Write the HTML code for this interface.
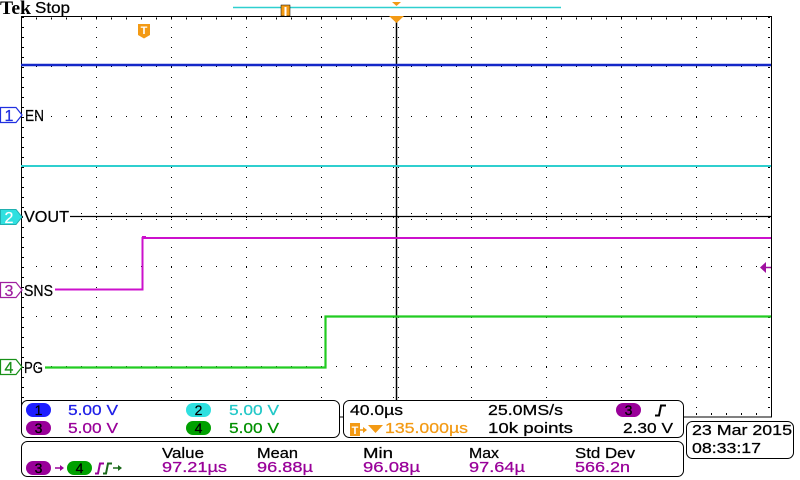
<!DOCTYPE html>
<html><head><meta charset="utf-8"><style>
html,body{margin:0;padding:0;background:#fff;}
svg{display:block;}
text{font-family:"Liberation Sans","DejaVu Sans",sans-serif;stroke-width:0.25;}
</style></head><body>
<svg width="800" height="480" viewBox="0 0 800 480" xmlns="http://www.w3.org/2000/svg">
<rect width="800" height="480" fill="#fff"/>
<!-- header -->
<text x="0" y="14" style="font-family:'Liberation Serif',serif;font-weight:bold" font-size="19" textLength="31" lengthAdjust="spacingAndGlyphs" fill="#000">Tek</text>
<text x="35" y="13" font-size="16" textLength="35" lengthAdjust="spacingAndGlyphs" fill="#000" stroke="#000">Stop</text>
<line x1="233" y1="7.5" x2="561" y2="7.5" stroke="#2fcfcf" stroke-width="1.5"/>
<rect x="281" y="5" width="9" height="11" fill="#f39a14" stroke="#000" stroke-width="0.5"/>
<rect x="284.5" y="7" width="2" height="9" fill="#fff"/>
<polygon points="392,2 401,2 396.5,6" fill="#f39a14"/>

<!-- grid -->
<g stroke="#000" stroke-width="1">
  <g stroke-dasharray="1 9">
    <line x1="96.5" y1="17" x2="96.5" y2="417"/>
    <line x1="171.5" y1="17" x2="171.5" y2="417"/>
    <line x1="246.5" y1="17" x2="246.5" y2="417"/>
    <line x1="321.5" y1="17" x2="321.5" y2="417"/>
    <line x1="471.5" y1="17" x2="471.5" y2="417"/>
    <line x1="546.5" y1="17" x2="546.5" y2="417"/>
    <line x1="621.5" y1="17" x2="621.5" y2="417"/>
    <line x1="696.5" y1="17" x2="696.5" y2="417"/>
    <line x1="23" y1="17" x2="23" y2="417" stroke-width="2"/>
    <line x1="769" y1="17" x2="769" y2="417" stroke-width="2"/>
    <line x1="393.5" y1="17" x2="393.5" y2="417"/>
    <line x1="398.5" y1="17" x2="398.5" y2="417"/>
  </g>
  <g stroke-dasharray="1 14">
    <line x1="36" y1="66.5" x2="771" y2="66.5"/>
    <line x1="36" y1="116.5" x2="771" y2="116.5"/>
    <line x1="36" y1="166.5" x2="771" y2="166.5"/>
    <line x1="36" y1="266.5" x2="771" y2="266.5"/>
    <line x1="36" y1="316.5" x2="771" y2="316.5"/>
    <line x1="36" y1="366.5" x2="771" y2="366.5"/>
    <line x1="36" y1="18.5" x2="771" y2="18.5" stroke-width="2"/>
    <line x1="36" y1="414" x2="771" y2="414" stroke-width="2"/>
    <line x1="36" y1="213.5" x2="771" y2="213.5"/>
    <line x1="36" y1="219.5" x2="771" y2="219.5"/>
  </g>
  <line x1="21.5" y1="16" x2="21.5" y2="417"/>
  <line x1="771.5" y1="16" x2="771.5" y2="417.5"/>
  <line x1="21" y1="16.5" x2="772" y2="16.5"/>
  <line x1="21" y1="417" x2="772" y2="417"/>
  <line x1="21" y1="216.5" x2="771" y2="216.5" stroke-width="1.2"/>
  <line x1="396.5" y1="16" x2="396.5" y2="417" stroke-width="1.5"/>
</g>
<polygon points="389,16 404,16 396.5,23" fill="#f39a14"/>

<!-- T marker -->
<path d="M138,24 H150 V35 L144,38.5 L138,35 Z" fill="#f39a14"/>
<text x="144" y="34" font-size="11" font-weight="bold" text-anchor="middle" fill="#fff">T</text>

<!-- traces -->
<line x1="21" y1="65" x2="771" y2="65" stroke="#1428c8" stroke-width="2.5"/>
<line x1="21" y1="166" x2="771" y2="166" stroke="#2fcfcf" stroke-width="2"/>
<polyline points="55,289.5 142.5,289.5 142.5,238 771,238" fill="none" stroke="#cc10cc" stroke-width="2"/>
<rect x="142" y="236" width="4" height="2" fill="#cc10cc"/>
<polyline points="45,367.5 325.5,367.5 325.5,316.5 771,316.5" fill="none" stroke="#22cc22" stroke-width="2.2"/>

<!-- trigger level arrow -->
<polygon points="760,267.5 766,262 766,273" fill="#a010a0"/>
<line x1="764" y1="267.5" x2="771" y2="267.5" stroke="#a010a0" stroke-width="1.5"/>

<!-- channel markers -->
<polygon points="0.5,107.5 16,107.5 22,115 16,122.5 0.5,122.5" fill="#fff" stroke="#2030e0" stroke-width="1.2"/>
<text x="9" y="121" font-size="16" text-anchor="middle" fill="#2030e0" stroke="#2030e0">1</text>
<text x="25" y="121" font-size="16" textLength="19" lengthAdjust="spacingAndGlyphs" fill="#000" stroke="#000">EN</text>

<polygon points="0.5,209.5 16,209.5 22,217 16,224.5 0.5,224.5" fill="#30e0e0" stroke="#20b0b0" stroke-width="1"/>
<text x="9" y="223" font-size="16" text-anchor="middle" fill="#fff" stroke="#fff">2</text>
<rect x="23" y="209" width="47" height="14" fill="#fff"/>
<text x="24" y="222" font-size="16" textLength="45" lengthAdjust="spacingAndGlyphs" fill="#000" stroke="#000">VOUT</text>

<polygon points="0.5,282.5 16,282.5 22,290 16,297.5 0.5,297.5" fill="#fff" stroke="#a020a0" stroke-width="1.2"/>
<text x="9" y="296" font-size="16" text-anchor="middle" fill="#a020a0" stroke="#a020a0">3</text>
<text x="24" y="296" font-size="16" textLength="29" lengthAdjust="spacingAndGlyphs" fill="#000" stroke="#000">SNS</text>

<polygon points="0.5,359.5 16,359.5 22,367 16,374.5 0.5,374.5" fill="#fff" stroke="#189018" stroke-width="1.2"/>
<text x="9" y="373" font-size="16" text-anchor="middle" fill="#189018" stroke="#189018">4</text>
<text x="24" y="373" font-size="16" textLength="19" lengthAdjust="spacingAndGlyphs" fill="#000" stroke="#000">PG</text>

<!-- panel 1 -->
<rect x="21.5" y="400.5" width="318" height="37" rx="6" fill="#fff" stroke="#000"/>
<rect x="26" y="403" width="25" height="14" rx="7" fill="#1e1eff"/>
<text x="38.5" y="415" font-size="14" text-anchor="middle" fill="#000" stroke="#000">1</text>
<text x="68" y="415" font-size="15" textLength="50" lengthAdjust="spacingAndGlyphs" fill="#2020e8" stroke="#2020e8">5.00 V</text>
<rect x="186" y="403" width="25" height="14" rx="7" fill="#2ee0e0"/>
<text x="198.5" y="415" font-size="14" text-anchor="middle" fill="#000" stroke="#000">2</text>
<text x="229" y="415" font-size="15" textLength="50" lengthAdjust="spacingAndGlyphs" fill="#22c8c8" stroke="#22c8c8">5.00 V</text>
<rect x="26" y="421" width="25" height="14" rx="7" fill="#990099"/>
<text x="38.5" y="433" font-size="14" text-anchor="middle" fill="#000" stroke="#000">3</text>
<text x="68" y="433" font-size="15" textLength="50" lengthAdjust="spacingAndGlyphs" fill="#990099" stroke="#990099">5.00 V</text>
<rect x="186" y="421" width="25" height="14" rx="7" fill="#00a000"/>
<text x="198.5" y="433" font-size="14" text-anchor="middle" fill="#000" stroke="#000">4</text>
<text x="229" y="433" font-size="15" textLength="50" lengthAdjust="spacingAndGlyphs" fill="#009000" stroke="#009000">5.00 V</text>

<!-- panel 2 -->
<rect x="343.5" y="400.5" width="340" height="37" rx="6" fill="#fff" stroke="#000"/>
<text x="350" y="415" font-size="15" textLength="53" lengthAdjust="spacingAndGlyphs" fill="#000" stroke="#000">40.0µs</text>
<text x="488" y="415" font-size="15" textLength="75" lengthAdjust="spacingAndGlyphs" fill="#000" stroke="#000">25.0MS/s</text>
<rect x="616" y="403" width="25" height="14" rx="7" fill="#990099"/>
<text x="628.5" y="415" font-size="14" text-anchor="middle" fill="#000" stroke="#000">3</text>
<path d="M655,415.5 H659 L661,405.5 H666" fill="none" stroke="#000" stroke-width="2"/>
<rect x="350" y="423" width="10" height="13" fill="#f39a14"/>
<text x="355" y="434" font-size="11" font-weight="bold" text-anchor="middle" fill="#fff">T</text>
<line x1="360" y1="430" x2="366" y2="430" stroke="#f39a14" stroke-width="1.5"/>
<polygon points="363,427 367,430 363,433" fill="#f39a14"/>
<polygon points="368,425 383,425 375.5,433" fill="#f39a14"/>
<text x="385" y="433" font-size="15" textLength="83" lengthAdjust="spacingAndGlyphs" fill="#f39a14" stroke="#f39a14">135.000µs</text>
<text x="488" y="433" font-size="15" textLength="85" lengthAdjust="spacingAndGlyphs" fill="#000" stroke="#000">10k points</text>
<text x="623" y="433" font-size="15" textLength="50" lengthAdjust="spacingAndGlyphs" fill="#000" stroke="#000">2.30 V</text>

<!-- panel 3 measurements -->
<rect x="21.5" y="441.5" width="662" height="35" rx="6" fill="#fff" stroke="#000"/>
<rect x="26" y="461" width="25" height="14" rx="7" fill="#990099"/>
<text x="38.5" y="473" font-size="14" text-anchor="middle" fill="#000" stroke="#000">3</text>
<line x1="55" y1="468" x2="63" y2="468" stroke="#990099" stroke-width="1.5"/>
<polygon points="60,465 64,468 60,471" fill="#990099"/>
<rect x="67" y="461" width="25" height="14" rx="7" fill="#00a000"/>
<text x="79.5" y="473" font-size="14" text-anchor="middle" fill="#000" stroke="#000">4</text>
<path d="M95,473.5 H98 L100,463.5 H104" fill="none" stroke="#990099" stroke-width="2"/>
<path d="M103,473.5 H106 L108,463.5 H112" fill="none" stroke="#1a6a1a" stroke-width="2"/>
<line x1="113" y1="468" x2="121" y2="468" stroke="#1a6a1a" stroke-width="1.5"/>
<polygon points="118,465 122,468 118,471" fill="#1a6a1a"/>
<text x="162" y="458" font-size="15" textLength="42" lengthAdjust="spacingAndGlyphs" fill="#000" stroke="#000">Value</text>
<text x="257" y="458" font-size="15" textLength="41" lengthAdjust="spacingAndGlyphs" fill="#000" stroke="#000">Mean</text>
<text x="363" y="458" font-size="15" textLength="30" lengthAdjust="spacingAndGlyphs" fill="#000" stroke="#000">Min</text>
<text x="469" y="458" font-size="15" textLength="30" lengthAdjust="spacingAndGlyphs" fill="#000" stroke="#000">Max</text>
<text x="575" y="458" font-size="15" textLength="60" lengthAdjust="spacingAndGlyphs" fill="#000" stroke="#000">Std Dev</text>
<text x="162" y="472" font-size="15" textLength="65" lengthAdjust="spacingAndGlyphs" fill="#990099" stroke="#990099">97.21µs</text>
<text x="257" y="472" font-size="15" textLength="56" lengthAdjust="spacingAndGlyphs" fill="#990099" stroke="#990099">96.88µ</text>
<text x="363" y="472" font-size="15" textLength="57" lengthAdjust="spacingAndGlyphs" fill="#990099" stroke="#990099">96.08µ</text>
<text x="469" y="472" font-size="15" textLength="56" lengthAdjust="spacingAndGlyphs" fill="#990099" stroke="#990099">97.64µ</text>
<text x="575" y="472" font-size="15" textLength="55" lengthAdjust="spacingAndGlyphs" fill="#990099" stroke="#990099">566.2n</text>

<!-- date panel -->
<rect x="686.5" y="421.5" width="107" height="37" rx="6" fill="#fff" stroke="#000"/>
<text x="692" y="435" font-size="15" textLength="100" lengthAdjust="spacingAndGlyphs" fill="#000" stroke="#000">23 Mar 2015</text>
<text x="692" y="453" font-size="15" textLength="69" lengthAdjust="spacingAndGlyphs" fill="#000" stroke="#000">08:33:17</text>
</svg>
</body></html>
